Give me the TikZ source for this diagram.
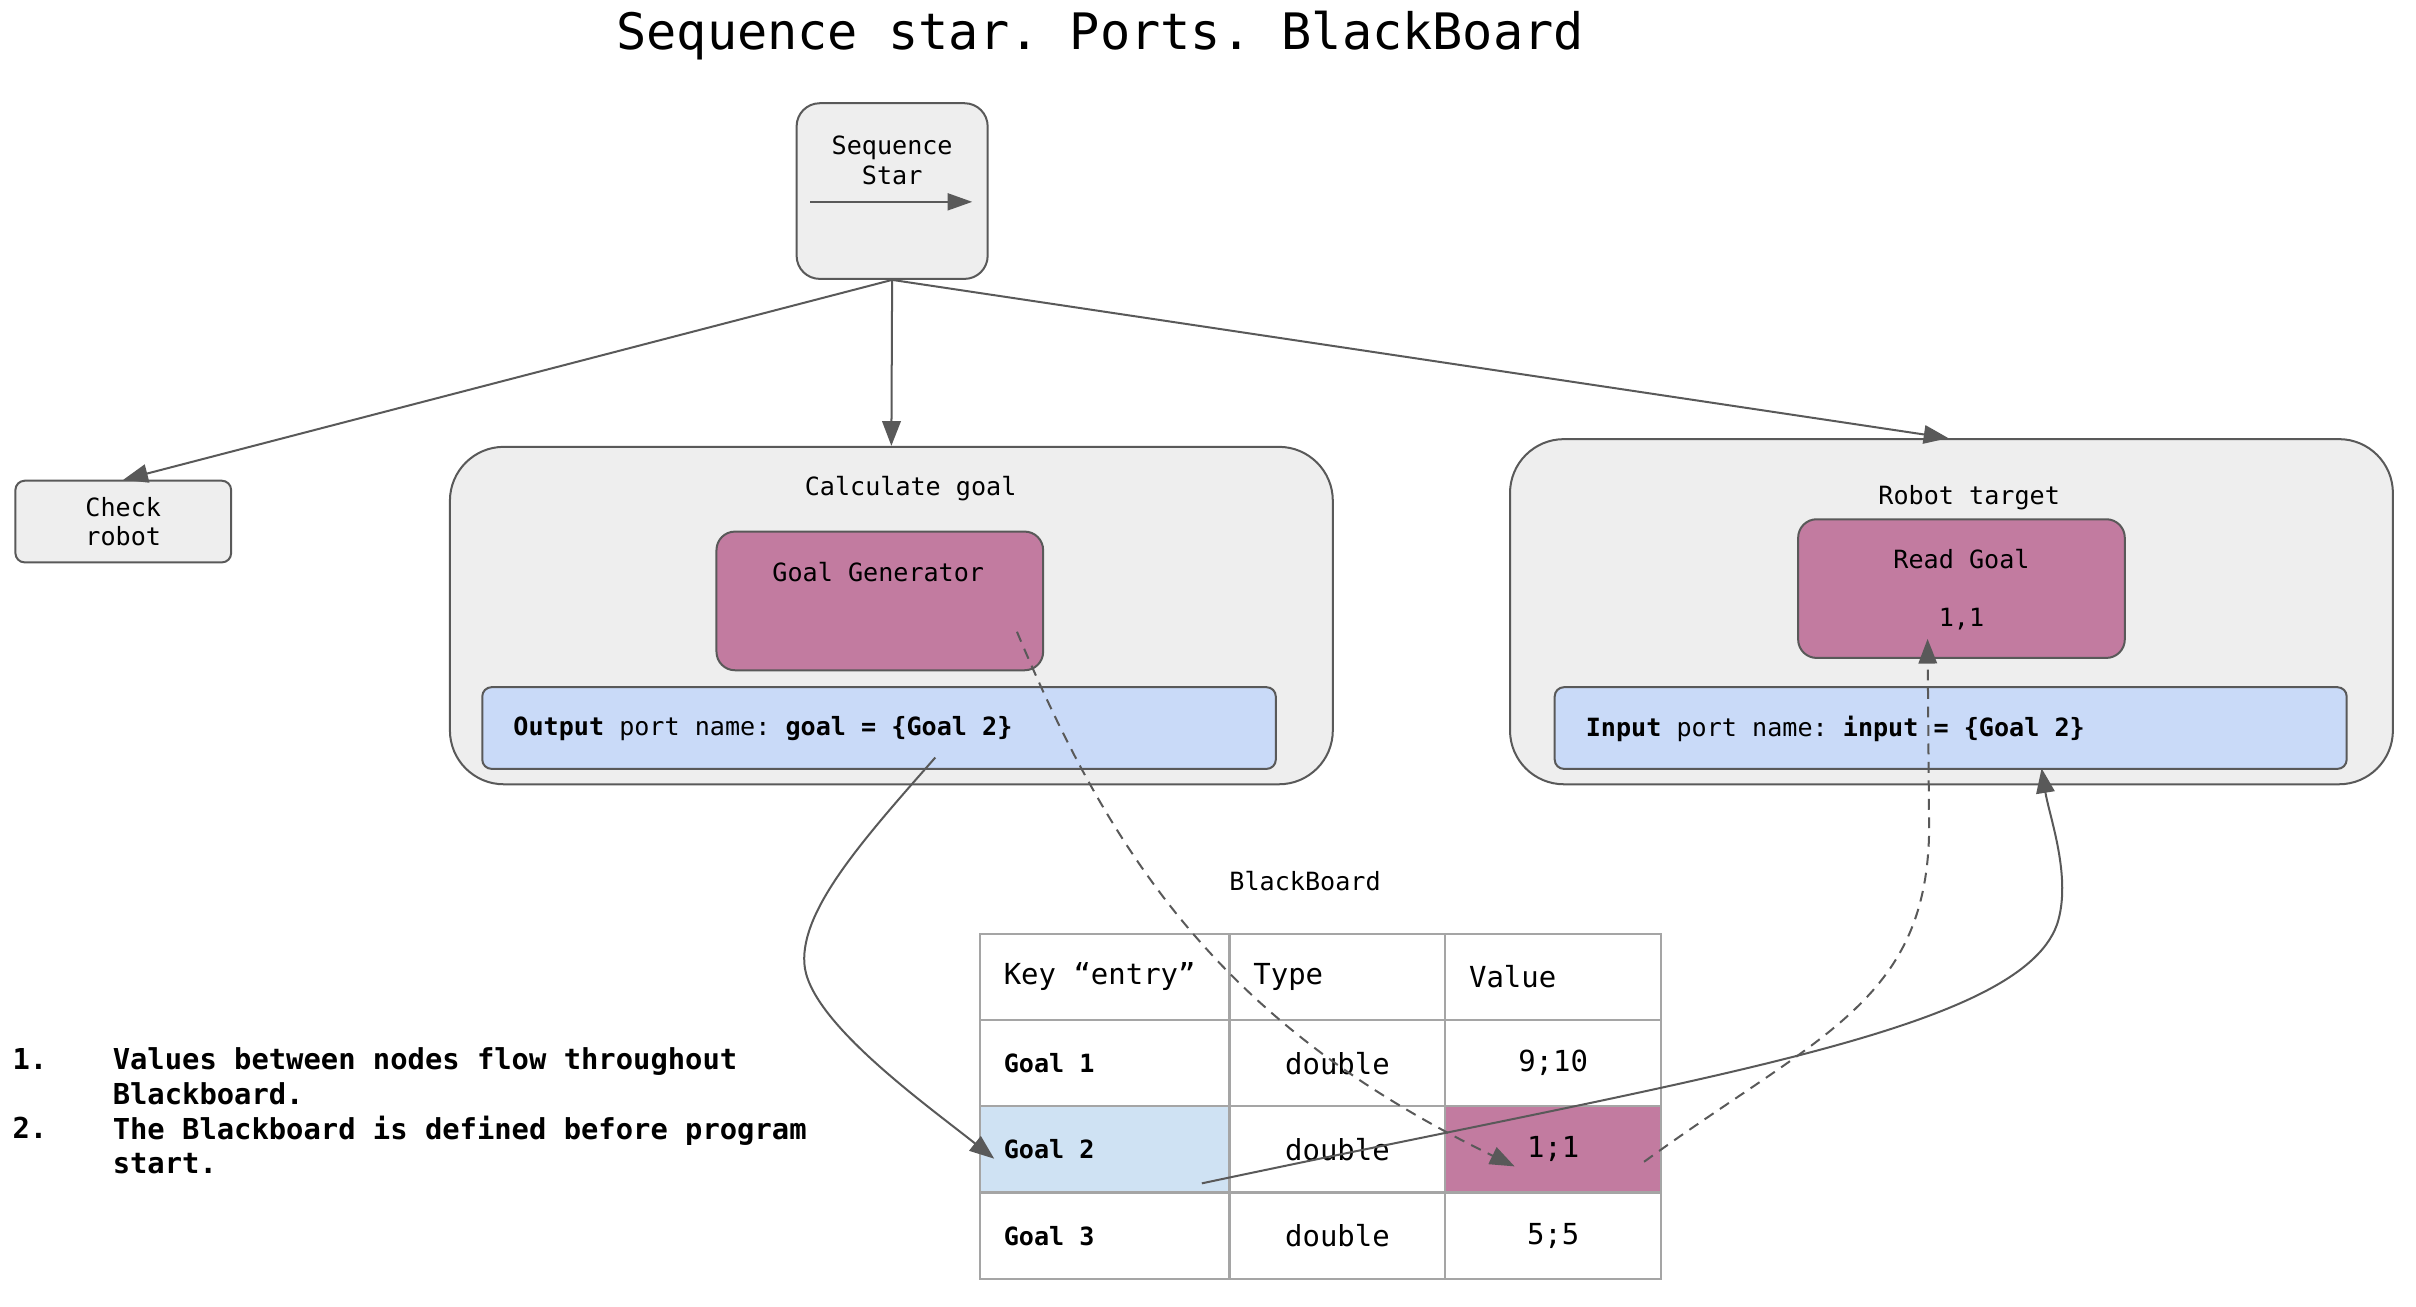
\documentclass[tikz,border=0pt]{standalone}
\usepackage{fontspec}
\setmonofont{DejaVu Sans Mono}
\usetikzlibrary{arrows.meta}
\definecolor{edgegray}{HTML}{595959}
\definecolor{boxgray}{HTML}{EEEEEE}
\definecolor{mauve}{HTML}{C27BA0}
\definecolor{portblue}{HTML}{C9DAF8}
\definecolor{cellblue}{HTML}{CFE2F3}
\definecolor{gridgray}{HTML}{A5A5A5}
\newcommand{\fnode}{\fontsize{16.3}{19}\selectfont\ttfamily}
\newcommand{\fcell}{\fontsize{18.8}{22}\selectfont\ttfamily}
\newcommand{\fnote}{\fontsize{18.7}{22.5}\selectfont\ttfamily\bfseries}
\begin{document}
\begin{tikzpicture}[x=1pt,y=-1pt,
  box/.style={draw=edgegray, line width=1.3pt, fill=boxgray, inner sep=0pt},
  pinkbox/.style={box, fill=mauve},
  portbox/.style={box, fill=portblue, rounded corners=6pt},
  txt/.style={font=\fnode, inner sep=0pt, align=center, text=black},
  cell/.style={draw=gridgray, line width=1.5pt, minimum width=#1, minimum height=56pt, inner sep=0pt},
  conn/.style={draw=edgegray, line width=1.3pt, -{Triangle[length=16pt,width=12pt]}},
  dconn/.style={conn, dash pattern=on 7pt off 5pt}
]
\useasboundingbox (0,0) rectangle (1568,848);

% title
\node[font=\fontsize{32.6}{38}\selectfont\ttfamily, inner sep=0pt] (title) at (714,23) {Sequence star. Ports. BlackBoard};

% sequence star control node
\node[box, rounded corners=15pt, minimum width=124pt, minimum height=114pt] (star) at (579,124) {};
\node[txt] (startxt) at (579,104) {Sequence\\Star};
\coordinate (seqa) at (526,131);
\draw[draw=edgegray, line width=1.3pt, -{Triangle[length=16pt,width=11pt]}] (seqa) -- ++(105,0);

% check robot
\node[box, rounded corners=6pt, minimum width=140pt, minimum height=53pt] (check) at (80,338.5) {};
\node[txt] (checktxt) at (80,338.5) {Check\\robot};

% calculate goal subtree
\node[box, rounded corners=35pt, minimum width=573pt, minimum height=219pt] (calc) at (578.5,399.5) {};
\node[txt] (calctxt) at (591,317) {Calculate goal};
\node[pinkbox, rounded corners=12pt, minimum width=212pt, minimum height=90pt] (gen) at (571,390) {};
\node[txt] (gentxt) at (570,371) {Goal Generator};
\node[portbox, minimum width=515pt, minimum height=53pt] (outport) at (570.5,472.5) {};
\node[txt, anchor=west] (outtxt) at (333,473) {\textbf{Output} port name: \textbf{goal = \{Goal 2\}}};

% robot target subtree
\node[box, rounded corners=35pt, minimum width=573pt, minimum height=224pt] (robot) at (1266.5,397) {};
\node[txt] (robottxt) at (1278,323) {Robot target};
\node[pinkbox, rounded corners=12pt, minimum width=212pt, minimum height=90pt] (read) at (1273,382) {};
\node[txt] (readtxt) at (1273,363) {Read Goal};
\node[txt] (readval) at (1273,402) {1,1};
\node[portbox, minimum width=514pt, minimum height=53pt] (inport) at (1266,472.5) {};
\node[txt, anchor=west] (intxt) at (1029,473) {\textbf{Input} port name: \textbf{input = \{Goal 2\}}};

% blackboard table
\node[txt] (bbtitle) at (847,572) {BlackBoard};
\node[cell=162pt] (h1) at (717,634) {};
\node[cell=140pt] (h2) at (868,634) {};
\node[cell=140pt] (h3) at (1008,634) {};
\node[cell=162pt] (k1) at (717,690) {};
\node[cell=140pt] (t1) at (868,690) {};
\node[cell=140pt] (v1) at (1008,690) {};
\node[cell=162pt, fill=cellblue] (k2) at (717,746) {};
\node[cell=140pt] (t2) at (868,746) {};
\node[cell=140pt, fill=mauve] (v2) at (1008,746) {};
\node[cell=162pt] (k3) at (717,802) {};
\node[cell=140pt] (t3) at (868,802) {};
\node[cell=140pt] (v3) at (1008,802) {};
\foreach \n/\t in {h1/Key “entry”, h2/Type, h3/Value}
  \node[font=\fcell, inner sep=0pt, anchor=west] at ([xshift=16pt]\n.west) {\t};
\foreach \n/\t in {k1/Goal 1, k2/Goal 2, k3/Goal 3}
  \node[font=\fnode\bfseries, inner sep=0pt, anchor=west] at ([xshift=16pt]\n.west) {\t};
\foreach \n in {t1,t2,t3}
  \node[font=\fcell, inner sep=0pt] at (\n) {double};
\node[font=\fcell, inner sep=0pt] (v1txt) at (v1) {9;10};
\node[font=\fcell, inner sep=0pt] (v2txt) at (v2) {1;1};
\node[font=\fcell, inner sep=0pt] (v3txt) at (v3) {5;5};

% notes
\node[font=\fnote, inner sep=0pt, anchor=north west, align=left] (notes) at (8,680)
  {1.\\ \\2.\\ \\};
\node[font=\fnote, inner sep=0pt, anchor=north west, align=left] (notetxt) at (73,680)
  {Values between nodes flow throughout\\Blackboard.\\The Blackboard is defined before program\\start.};

% tree edges
\draw[conn] (star.south) -- (check.north);
\draw[conn] (star.south) -- (calc.north);
\draw[conn] (star.south) -- ([xshift=-2pt]robot.north);

% data flow through the blackboard
\draw[conn] ([shift={(36.5,-8)}]outport.south)
  .. controls (560,545) and (520,590) .. (522,625)
  .. controls (524,662) and (600,716) .. ([shift={(10,6)}]k2.west);
\draw[dconn] ([shift={(89,20)}]gen.center)
  .. controls (725,565) and (800,668) .. ([shift={(-25,11)}]v2.center);
\draw[conn] ([shift={(63,22)}]k2.center)
  .. controls (1100,700) and (1310,670) .. (1335,600)
  .. controls (1345,570) and (1330,530) .. ([shift={(59,-1)}]inport.south);
\draw[dconn] ([shift={(59,8)}]v2.center)
  .. controls (1180,672) and (1250,650) .. (1252,540)
  -- ([shift={(-22,-13)}]read.south);
\end{tikzpicture}
\end{document}
